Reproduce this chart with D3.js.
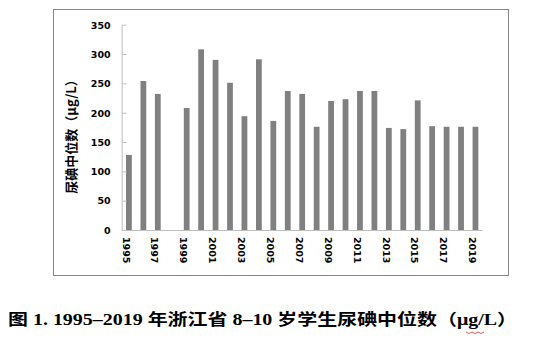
<!DOCTYPE html>
<html><head><meta charset="utf-8">
<script src="https://cdn.jsdelivr.net/npm/d3@7/dist/d3.min.js"></script>
<style>body{margin:0;background:#fff}svg{display:block}</style>
</head><body>
<script>
const years = ["1995","1996","1997","1998","1999","2000","2001","2002","2003","2004","2005","2006","2007","2008","2009","2010","2011","2012","2013","2014","2015","2016","2017","2018","2019"];
const medians = [128,254,232,null,208,308,290,251,194,291,186,237,232,176,220,223,237,237,174,172,221,177,176,176,176];
const yTicks = [0,50,100,150,200,250,300,350];
const xTickLabels = ["1995","1997","1999","2001","2003","2005","2007","2009","2011","2013","2015","2017","2019"];
const yTitle = "尿碘中位数（μg/L）";
const caption = "图 1. 1995–2019 年浙江省 8–10 岁学生尿碘中位数（μg/L）";

const W = 539, H = 343;
const svg = d3.select("body").append("svg").attr("width", W).attr("height", H);
svg.append("rect").attr("width", W).attr("height", H).attr("fill", "#fff");

// chart frame
svg.append("rect").attr("x", 53.5).attr("y", 9.5).attr("width", 455).attr("height", 266)
  .attr("fill", "none").attr("stroke", "#868686").attr("stroke-width", 1);

const x = d3.scaleBand().domain(years).range([121.7, 482.7]).paddingInner(0.6).paddingOuter(0.3);
const y = d3.scaleLinear().domain([0, 350]).range([230, 24.7]);

// bars
svg.append("g").selectAll("rect").data(years.map((yr, i) => ({yr, v: medians[i]})).filter(d => d.v != null))
  .join("rect")
  .attr("x", d => x(d.yr)).attr("width", x.bandwidth())
  .attr("y", d => y(d.v)).attr("height", d => y(0) - y(d.v))
  .attr("fill", "#808080");

// y axis
const yAxis = d3.axisRight(y).tickValues(yTicks).tickSize(5).tickFormat(d => d);
const gy = svg.append("g").attr("transform", "translate(121.7,0)").call(yAxis);
gy.select(".domain").attr("stroke", "#bfbfbf").attr("d", `M0.5,${y(350)}V${y(0)}`);
gy.selectAll(".tick line").attr("stroke", "#bfbfbf").attr("x1", 0.5).attr("x2", 5);
gy.selectAll(".tick text").attr("x", -11).attr("text-anchor", "end")
  .attr("font-family", "DejaVu Sans, Verdana, sans-serif").attr("font-weight", "bold").attr("font-size", 9.5)
  .attr("fill", "#000").attr("dy", "0.35em");

// x axis
const xAxis = d3.axisBottom(x).tickValues(xTickLabels).tickSize(0).tickFormat(d => d);
const gx = svg.append("g").attr("transform", `translate(0,${y(0)})`).call(xAxis);
gx.select(".domain").attr("stroke", "#bfbfbf").attr("d", `M121.7,0.5H482.7`);
gx.selectAll(".tick text")
  .attr("transform", "translate(-3,7) rotate(90)")
  .attr("x", 0).attr("y", 0).attr("dy", "0.35em")
  .attr("text-anchor", "start")
  .attr("font-family", "DejaVu Sans, Verdana, sans-serif").attr("font-weight", "bold").attr("font-size", 9.5)
  .attr("fill", "#000");

// y title
svg.append("text").attr("transform", "translate(70,133.5) rotate(-90)")
  .attr("text-anchor", "middle").attr("dominant-baseline", "central")
  .attr("font-family", "Noto Sans CJK SC, sans-serif").attr("font-weight", "bold").attr("font-size", 13)
  .text(yTitle);

// caption
svg.append("text").attr("x", 8).attr("y", 325)
  .attr("font-family", "Liberation Serif, Noto Sans CJK SC, serif").attr("font-weight", "bold").attr("font-size", 16)
  .attr("textLength", 509).attr("lengthAdjust", "spacingAndGlyphs")
  .text(caption);

// spell-check squiggle under μg
const sq = d3.range(0, 7).map(i => [466 + i * 3, 332 + (i % 2 ? 1.5 : 0)]);
svg.append("path").attr("d", d3.line()(sq)).attr("fill", "none").attr("stroke", "#e03030").attr("stroke-width", 0.8);
</script>
</body></html>
